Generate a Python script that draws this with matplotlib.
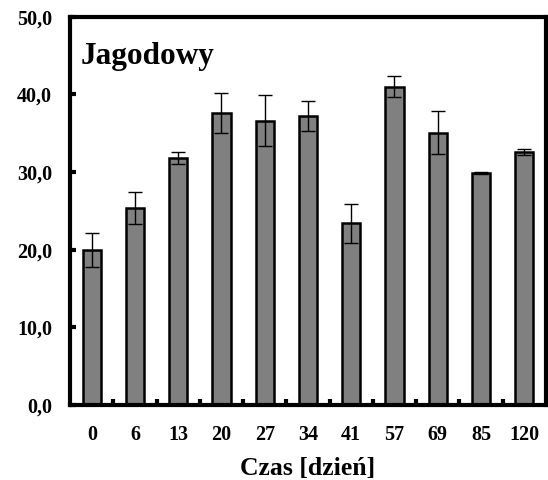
"""Bar chart with error bars: Jagodowy"""
import numpy
from matplotlib import pyplot as plt

DAYS = ["0", "6", "13", "20", "27", "34", "41", "57", "69", "85", "120"]
MEANS = [20.0, 25.4, 31.8, 37.6, 36.6, 37.2, 23.4, 41.0, 35.1, 29.9, 32.6]
ERRORS = [2.2, 2.1, 0.8, 2.6, 3.3, 1.9, 2.5, 1.35, 2.8, 0.1, 0.4]
Y_TICKS = [0, 10, 20, 30, 40, 50]

plt.rcParams["font.family"] = ["Liberation Serif", "DejaVu Serif"]
plt.rcParams["font.weight"] = "bold"

fig = plt.figure(figsize=(5.48, 4.8), dpi=100)
ax = fig.add_axes([0.128, 0.156, 0.868, 0.809])

x = numpy.arange(len(DAYS))
ax.bar(x, MEANS, width=0.42, color="#808080", edgecolor="black", linewidth=1.8, zorder=2)
ax.errorbar(x, MEANS, yerr=ERRORS, fmt="none", ecolor="black", elinewidth=1.0,
            capsize=4.7, capthick=1.0, zorder=3)

ax.set_xlim(-0.5, len(DAYS) - 0.5)
ax.set_ylim(0, 50)
ax.set_yticks(Y_TICKS)
ax.set_yticklabels([f"{v:.1f}".replace(".", ",") for v in Y_TICKS])
ax.set_xticks(x)
ax.set_xticklabels(DAYS)
ax.set_xticks(x[:-1] + 0.5, minor=True)

ax.tick_params(axis="y", direction="in", length=4, width=3, labelsize=14.5, pad=13)
ax.tick_params(axis="x", which="major", length=0, labelsize=14.5, pad=14)
ax.tick_params(axis="x", which="minor", direction="in", length=4, width=3)

for spine in ax.spines.values():
    spine.set_linewidth(3)

ax.text(0.022, 0.935, "Jagodowy", transform=ax.transAxes, fontsize=22.5,
        fontweight="bold", va="top", ha="left")
ax.set_xlabel("Czas [dzień]", fontsize=18.5, fontweight="bold", labelpad=9)

plt.savefig("out.png", dpi=100)
